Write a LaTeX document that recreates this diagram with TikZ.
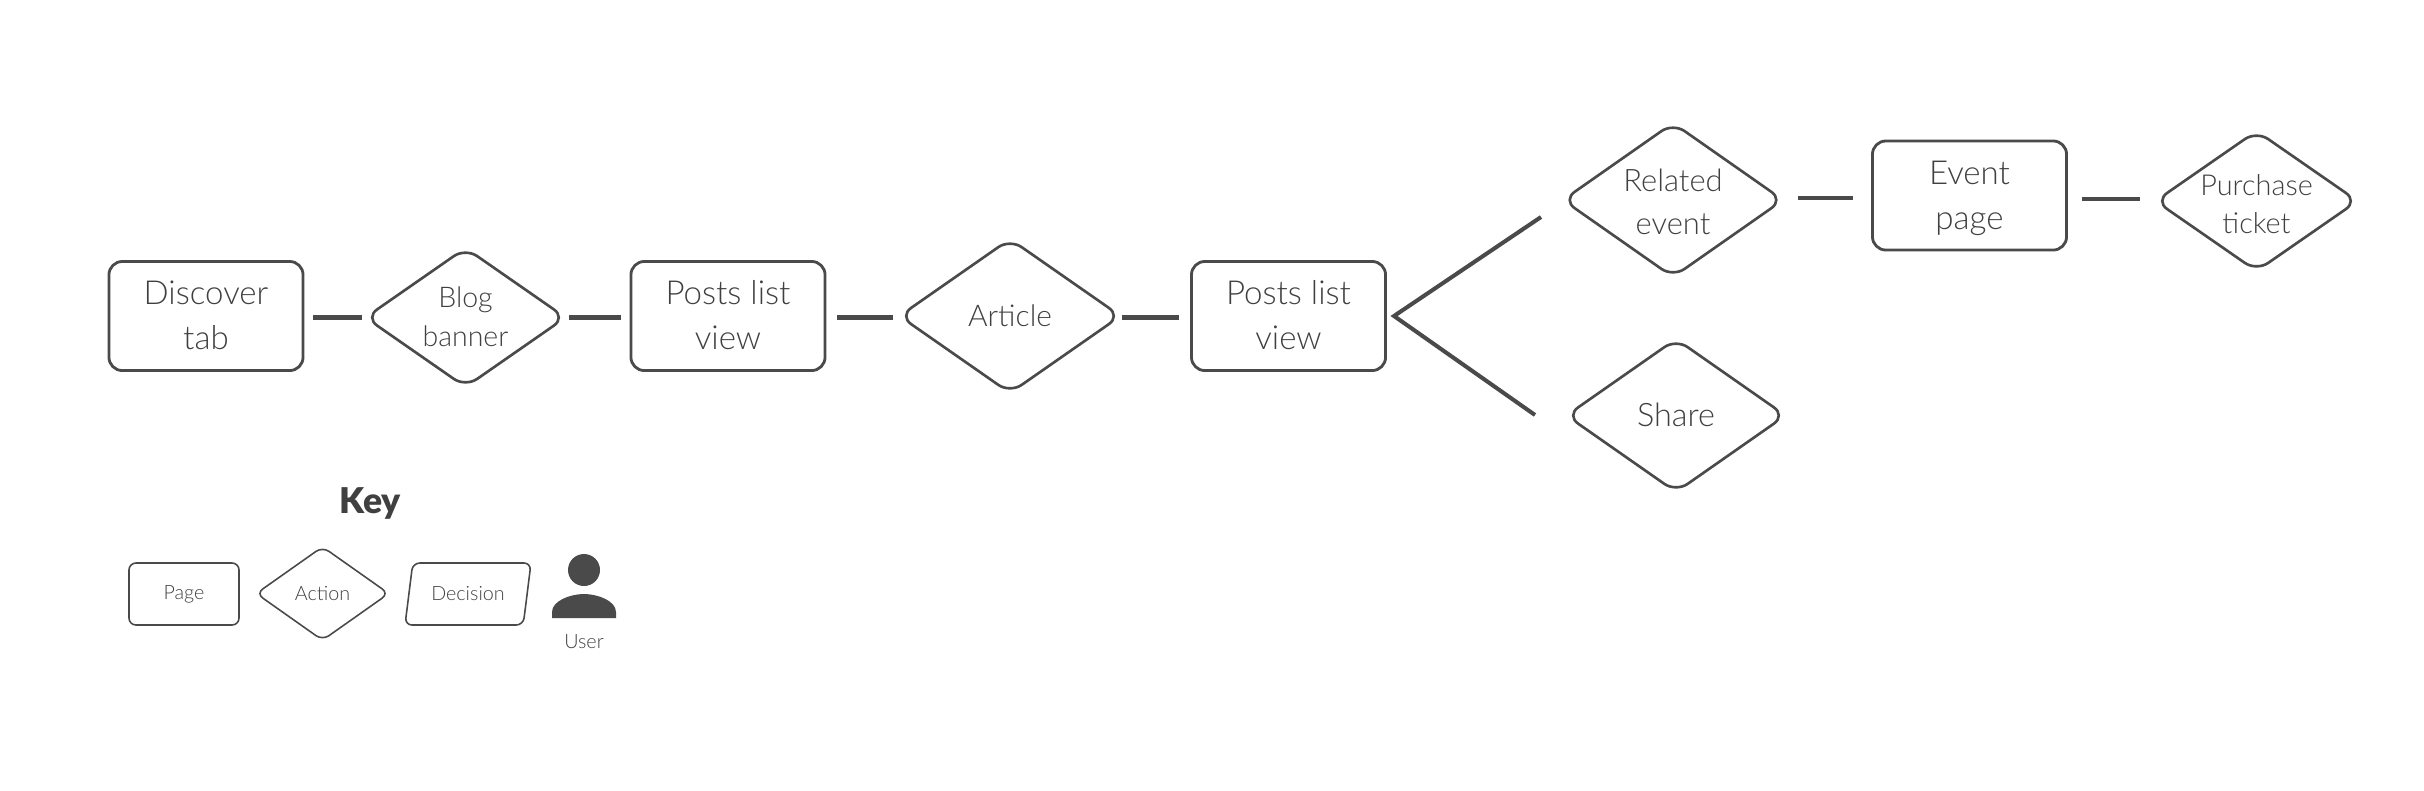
\documentclass[tikz,border=0pt]{standalone}
\usepackage{fontspec}
\setmainfont{Lato}[UprightFont=* Light,BoldFont=* Black]
\usepackage{color}
\usetikzlibrary{shapes.geometric}
\definecolor{ink}{HTML}{4A4A4A}
\definecolor{inktext}{HTML}{404040}
\newcommand{\nudge}{\rule[-0.5pt]{0pt}{0pt}}

\begin{document}
\begin{tikzpicture}[x=0.01cm,y=-0.01cm,color=ink,text=inktext,
	pagebig/.style={draw,line width=0.8pt,rounded corners=3.8pt,minimum width=1.94cm,minimum height=1.09cm,align=center,font=\fontsize{9.4}{12.8}\selectfont},
	actionbox/.style={draw,diamond,line width=0.75pt,rounded corners=4pt,inner sep=-30pt,align=center,font=\fontsize{8.2}{11.2}\selectfont},
	keybox/.style={draw,line width=0.45pt,inner sep=0pt,align=center,font=\fontsize{5.6}{7}\selectfont},
	link/.style={line width=1.15pt}]
	\useasboundingbox (0,0) rectangle (2424,790);

	\node[pagebig] (discover) at (206,316) {Discover\\tab\nudge};
	\node[actionbox,minimum width=2.01cm,minimum height=1.40cm,font=\fontsize{8.1}{11.2}\selectfont] (blog) at (465.5,317.5) {Blog\\banner\nudge};
	\node[pagebig] (postsa) at (728,316) {Posts list\\view\nudge};
	\node[actionbox,minimum width=2.22cm,minimum height=1.55cm,font=\fontsize{8.5}{11.2}\selectfont] (article) at (1010,316) {Article\nudge};
	\node[pagebig] (postsb) at (1288.5,316) {Posts list\\view\nudge};
	\node[actionbox,minimum width=2.21cm,minimum height=1.55cm,font=\fontsize{8.8}{12.2}\selectfont] (related) at (1673,200) {Related\rule{0pt}{7.4pt}\\event};
	\node[actionbox,minimum width=2.20cm,minimum height=1.54cm,font=\fontsize{9.2}{12}\selectfont] (share) at (1676,415.5) {Share\nudge};
	\node[pagebig] (event) at (1969.5,195.5) {Event\\\smash{page}};
	\node[actionbox,minimum width=2.03cm,minimum height=1.41cm,font=\fontsize{8.2}{10.6}\selectfont] (purchase) at (2256.5,201) {Purchase\rule{0pt}{7.8pt}\\ticket};

	\draw[link,shorten <=2.5pt,shorten >=0.6pt] (discover.east |- blog.west) -- (blog.west);
	\draw[link,shorten <=0.5pt,shorten >=2.3pt] (blog.east) -- (blog.east -| postsa.west);
	\draw[link,shorten <=3pt,shorten >=1.2pt] (postsa.east |- blog.west) -- (article.west |- blog.west);
	\draw[link,shorten >=3.1pt] (article.east |- blog.west) -- (postsb.west |- blog.west);
	\draw[link,shorten <=3.7pt,shorten >=5pt] ([yshift=0.45pt]related.east) -- ([yshift=0.45pt]related.east -| event.west);
	\draw[link,shorten <=4.1pt,shorten >=3.8pt] ([yshift=0.45pt]event.east |- purchase.west) -- ([yshift=0.45pt]purchase.west);

	\coordinate (forkapex) at (1394,316);
	\coordinate (forkup) at (1541,217);
	\coordinate (forkdown) at (1535,415);
	\draw[link] (forkup) -- (forkapex) -- (forkdown);

	% key
	\node[font=\fontsize{10.1}{12}\bfseries\selectfont] (keytitle) at (370,503) {Key};
	\node[keybox,rounded corners=2pt,minimum width=1.1cm,minimum height=0.62cm] (keypage) at (184,594) {Page};
	\node[keybox,diamond,rounded corners=2.2pt,inner sep=-30pt,minimum width=1.33cm,minimum height=0.94cm] (keyaction) at (322.5,593.5) {Action};
	\node[keybox,trapezium,trapezium left angle=70,trapezium right angle=110,trapezium stretches=true,rounded corners=2pt,minimum width=1.26cm,minimum height=0.62cm] (keydecision) at (468,594) {Decision};
	\fill (584,570) circle[radius=16];
	\fill (552,618) -- (552,612) .. controls (552,601) and (570,594) .. (584,594) .. controls (598,594) and (616,601) .. (616,612) -- (616,618) -- cycle;
	\node[font=\fontsize{5.6}{7}\selectfont] (keyuser) at (584,642) {User};
\end{tikzpicture}
\end{document}
